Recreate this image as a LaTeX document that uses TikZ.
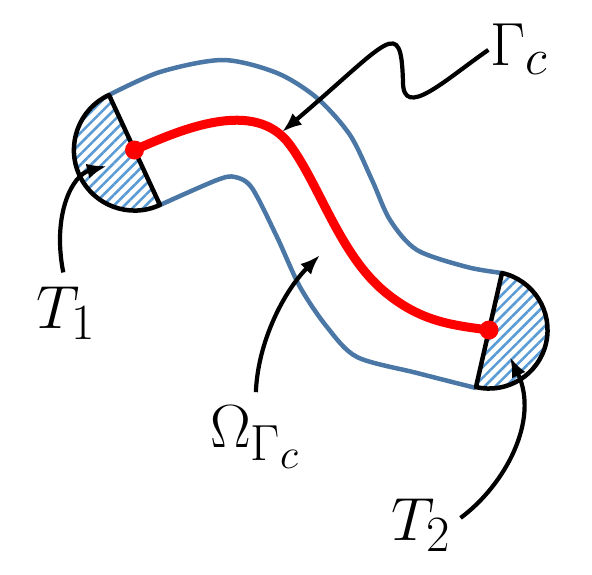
\documentclass[tikz,border=0pt]{standalone}
\usepackage{tikz}
\usetikzlibrary{arrows.meta,patterns.meta}

\definecolor{tubeblue}{RGB}{74,119,165}
\definecolor{hatchblue}{RGB}{91,155,213}
\newcommand{\biglbl}[1]{\scalebox{2.45}{\Huge$#1$}}

\begin{document}
\begin{tikzpicture}[
  x=1pt, y=1pt, yscale=-1,
  tube/.style={draw=tubeblue, line width=4.5pt},
  endcap/.style={draw=black, line width=4.5pt, line join=round,
    pattern={Lines[angle=45,distance=7.5pt,line width=2.6pt]}, pattern color=hatchblue},
  core/.style={draw=red, line width=9pt},
  pointer/.style={-{Latex[length=20pt,width=15pt]}, line width=4.2pt},
  lbl/.style={inner sep=0pt, anchor=base west}
]
\useasboundingbox (0,0) rectangle (592,574);

% end points of the centre line
\coordinate (c1) at (134.5,150);
\coordinate (c2) at (489,330);

% tube walls
\draw[tube] plot[smooth] coordinates {(109,95) (160,72) (223,60) (277,73) (317,98)
  (350,135) (372,180) (390,220) (417,250) (467,267) (502,273)};
\draw[tube] plot[smooth] coordinates {(160,205) (217,180) (235,177) (252,188)
  (277,237) (300,287) (327,327) (357,357) (417,373) (476,388)};

% caps
\draw[endcap] (160,205) -- (109,95) arc[start angle=245.1, end angle=65.1, radius=60.6] -- cycle;
\draw[endcap] (476,387) -- (502,273) arc[start angle=282.8, end angle=462.8, radius=58.5] -- cycle;

% centre line
\draw[core] (c1) .. controls (180,130) and (255,97) .. (290,145)
  .. controls (320,186) and (340,255) .. (385,292)
  .. controls (420,321) and (450,325) .. (c2);
\fill[red] (c1) circle[radius=9.5];
\fill[red] (c2) circle[radius=9.5];

% labels
\node[lbl] (gc) at (490,65) {\biglbl{\Gamma_c}};
\node[lbl] (t1) at (36,328) {\biglbl{T_1}};
\node[lbl] (om) at (210,447) {\biglbl{\Omega_{\Gamma_c}}};
\node[lbl] (t2) at (391,540) {\biglbl{T_2}};

\coordinate (tipone) at (107,166);
\coordinate (tipgc) at (282,132);
\coordinate (tipom) at (320,255);
\coordinate (tiptwo) at (510,357);

\draw[pointer, shorten <=14pt] (t1.north) .. controls (52,215) and (72,175) .. (tipone);
\draw[pointer, shorten <=2pt] (gc.west) .. controls (445,80) and (403,120) .. (403,82)
  .. controls (401,15) and (390,40) .. (tipgc);
\draw[pointer, shorten <=13pt] (om.north) .. controls (258,340) and (285,290) .. (tipom);
\draw[pointer, shorten <=12pt] (t2.east) .. controls (505,485) and (540,420) .. (tiptwo);
\end{tikzpicture}
\end{document}
